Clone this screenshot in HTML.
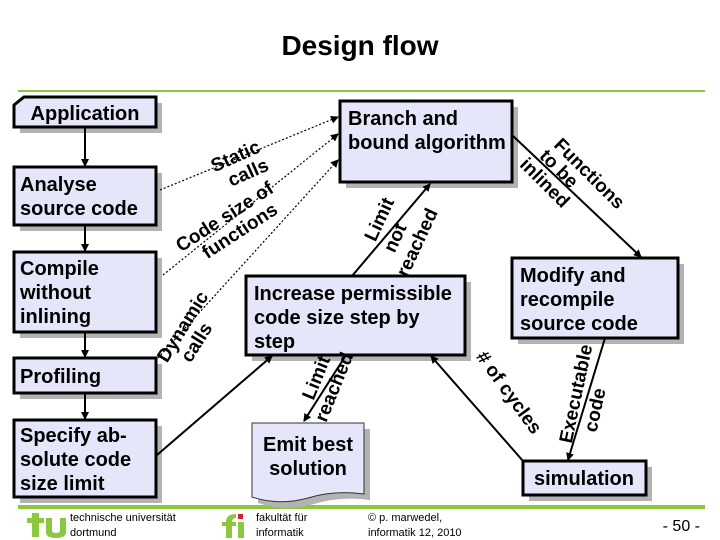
<!DOCTYPE html>
<html><head><meta charset="utf-8"><style>
html,body{margin:0;padding:0;background:#fff;}
svg{display:block;font-family:"Liberation Sans",sans-serif;font-weight:bold;}
</style></head><body>
<svg width="720" height="540" viewBox="0 0 720 540" xmlns="http://www.w3.org/2000/svg">
<defs>
<marker id="a" markerWidth="8" markerHeight="8" refX="7" refY="4" orient="auto" markerUnits="userSpaceOnUse"><path d="M0,0 L8,4 L0,8 z" fill="#000"/></marker>
</defs>
<text x="360" y="55" font-size="28" text-anchor="middle">Design flow</text>
<line x1="18" y1="91" x2="705" y2="91" stroke="#8dc63f" stroke-width="2"/>
<line x1="18" y1="507" x2="705" y2="507" stroke="#8dc63f" stroke-width="4"/>

<g fill="#b3b3b3">
<rect x="20" y="103" width="142" height="30"/>
<rect x="20" y="173" width="142" height="58"/>
<rect x="20" y="258" width="142" height="80"/>
<rect x="20" y="364" width="142" height="35"/>
<rect x="20" y="426" width="142" height="77"/>
<rect x="346" y="107" width="172" height="81"/>
<rect x="252" y="282" width="219" height="79"/>
<rect x="518" y="264" width="166" height="80"/>
<rect x="529" y="467" width="123" height="34"/>
<path d="M258,429 H370 V500 Q340,496 314,504 Q285,512 258,503 Z"/>
</g>
<g fill="#e6e6fa" stroke="#000" stroke-width="3">
<path d="M14,105 L24,97 H156 V127 H14 Z"/>
<rect x="14" y="167" width="142" height="58"/>
<rect x="14" y="252" width="142" height="80"/>
<rect x="14" y="358" width="142" height="35"/>
<rect x="14" y="420" width="142" height="77"/>
<rect x="340" y="101" width="172" height="81"/>
<rect x="246" y="276" width="219" height="79"/>
<rect x="512" y="258" width="166" height="80"/>
<rect x="523" y="461" width="123" height="34"/>
</g>
<path d="M252,423 H364 V494 Q334,490 308,498 Q279,506 252,497 Z" fill="#e6e6fa" stroke="#333" stroke-width="1"/>

<g font-size="20" fill="#000">
<text x="85" y="120" text-anchor="middle">Application</text>
<text x="20" y="191">Analyse</text><text x="20" y="215">source code</text>
<text x="20" y="275">Compile</text><text x="20" y="299">without</text><text x="20" y="323">inlining</text>
<text x="20" y="383">Profiling</text>
<text x="20" y="442">Specify ab-</text><text x="20" y="466">solute code</text><text x="20" y="490">size limit</text>
<text x="348" y="125">Branch and</text><text x="348" y="149">bound algorithm</text>
<text x="254" y="300">Increase permissible</text><text x="254" y="324">code size step by</text><text x="254" y="348">step</text>
<text x="520" y="282">Modify and</text><text x="520" y="306">recompile</text><text x="520" y="330">source code</text>
<text x="584" y="485" text-anchor="middle">simulation</text>
<text x="308" y="451" text-anchor="middle">Emit best</text><text x="308" y="475" text-anchor="middle">solution</text>
</g>

<g stroke="#000" stroke-width="2" fill="none" marker-end="url(#a)">
<line x1="85" y1="127" x2="85" y2="166"/>
<line x1="85" y1="225" x2="85" y2="251"/>
<line x1="85" y1="332" x2="85" y2="357"/>
<line x1="85" y1="393" x2="85" y2="419"/>
<line x1="157" y1="455" x2="272" y2="356"/>
<line x1="352" y1="276" x2="430" y2="184"/>
<line x1="512" y1="135" x2="641" y2="257"/>
<line x1="605" y1="338" x2="568" y2="460"/>
<line x1="523" y1="461" x2="431" y2="356"/>
<line x1="346" y1="355" x2="304" y2="421"/>
</g>
<g stroke="#000" stroke-width="1.2" stroke-dasharray="2,2" fill="none" marker-end="url(#a)">
<line x1="160" y1="190" x2="338" y2="117"/>
<line x1="163" y1="275" x2="338" y2="134"/>
<line x1="158" y1="358" x2="338" y2="160"/>
</g>

<g font-size="19" fill="#000">
<g transform="translate(238,162) rotate(-24)"><text x="0" y="0" text-anchor="middle">Static</text><text x="5" y="20" text-anchor="middle">calls</text></g>
<g transform="translate(228,222) rotate(-33)"><text x="0" y="0" text-anchor="middle">Code size of</text><text x="5" y="20" text-anchor="middle">functions</text></g>
<g transform="translate(188,330) rotate(-58)"><text x="0" y="0" text-anchor="middle">Dynamic</text><text x="-6" y="20" text-anchor="middle">calls</text></g>
<g transform="translate(385,222) rotate(-65)"><text x="0" y="0" text-anchor="middle">Limit</text><text x="-10" y="22" text-anchor="middle">not</text><text x="-5" y="44" text-anchor="middle">reached</text></g>
<g transform="translate(585,178) rotate(45)"><text x="0" y="0" text-anchor="middle">Functions</text><text x="-25" y="18" text-anchor="middle">to be</text><text x="-25" y="38" text-anchor="middle">inlined</text></g>
<g transform="translate(322,380) rotate(-68)"><text x="0" y="0" text-anchor="middle">Limit</text><text x="-2" y="20" text-anchor="middle">reached</text></g>
<g transform="translate(504,396) rotate(54)"><text x="0" y="0" text-anchor="middle"># of cycles</text></g>
<g transform="translate(582,395) rotate(-78)"><text x="0" y="0" text-anchor="middle">Executable</text><text x="-12" y="22" text-anchor="middle">code</text></g>
</g>

<g fill="#8dc63f">
<rect x="32" y="513" width="7" height="24"/><rect x="27" y="518" width="17" height="5"/>
<path d="M46,518 h6 v12 q0,3 4,3 q4,0 4,-3 v-12 h6 v14 q0,6 -10,6 q-10,0 -10,-6 z"/>
<rect x="226" y="522" width="6" height="16"/><rect x="222" y="522" width="14" height="4"/>
<path d="M226,522 q0,-8 10,-8 v4 q-4,0 -4,4 z"/>
<rect x="238" y="522" width="6" height="16"/>
</g>
<rect x="238" y="514" width="5" height="5" fill="#d2232a"/>
<g font-family="Liberation Sans,sans-serif" font-weight="normal" font-size="11" fill="#000">
<text x="70" y="521">technische universität</text><text x="70" y="536">dortmund</text>
<text x="256" y="521">fakultät für</text><text x="256" y="536">informatik</text>
<text x="368" y="521">© p. marwedel,</text><text x="368" y="536">informatik 12,  2010</text>
<text x="700" y="531" font-size="16" text-anchor="end">-  50 -</text>
</g>
</svg>
</body></html>
